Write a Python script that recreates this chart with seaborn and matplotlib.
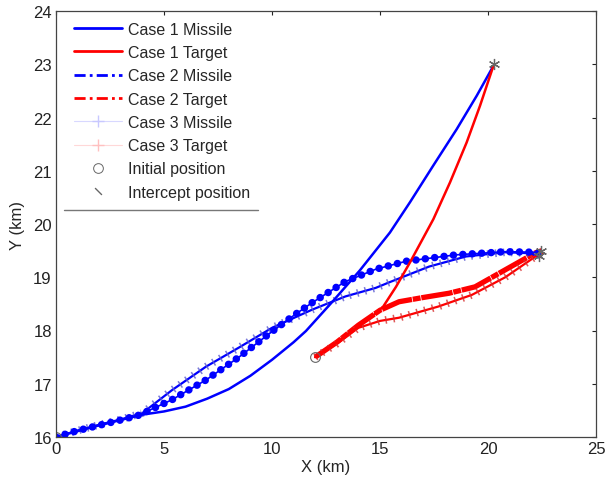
import numpy as np
import pandas as pd
import matplotlib
matplotlib.use("Agg")
import matplotlib.pyplot as plt
import seaborn as sns
from matplotlib.lines import Line2D

# --- trajectory data (km) ---
case1_missile_x = [0, 1, 2, 3, 4, 5, 6, 7, 8, 9, 10, 11, 11.57, 12.84, 14.07, 15.46, 16.39,
                   17.47, 18.55, 19.48, 20.25]
case1_missile_y = [16.0, 16.11, 16.22, 16.32, 16.42, 16.48, 16.57, 16.72, 16.9, 17.15, 17.45,
                   17.78, 17.99, 18.56, 19.13, 19.84, 20.41, 21.1, 21.78, 22.41, 22.97]

case1_target_x = [12, 13, 14, 14.6, 15.15, 15.74, 16.39, 17.47, 18.24, 19.01, 19.63, 20.25]
case1_target_y = [17.5, 17.78, 18.08, 18.25, 18.45, 18.82, 19.28, 20.09, 20.78, 21.53, 22.22, 22.97]

case2_missile_x = [0, 1, 2, 3, 3.84, 5.37, 6.94, 8.47, 10.0, 11.0, 11.85, 13.4, 14.8,
                   16.2, 18.5, 20.8, 22.2, 22.4]
case2_missile_y = [16.0, 16.12, 16.22, 16.32, 16.41, 16.7, 17.07, 17.5, 17.98, 18.28,
                   18.52, 18.92, 19.15, 19.3, 19.42, 19.48, 19.47, 19.45]

case2_target_x = [12, 13, 14, 15, 15.88, 17, 18.2, 19.4, 20.8, 22.2, 22.5]
case2_target_y = [17.5, 17.78, 18.1, 18.38, 18.54, 18.62, 18.7, 18.82, 19.14, 19.46, 19.5]

case3_missile_x = [0, 1, 2, 3, 4, 5.37, 6.94, 8.47, 10.0, 11.85, 13.4, 14.8, 15.4,
                   17.27, 18.98, 20.8, 22.0, 22.36]
case3_missile_y = [16.0, 16.12, 16.23, 16.33, 16.45, 16.88, 17.32, 17.68, 18.05, 18.39,
                   18.64, 18.8, 18.9, 19.2, 19.39, 19.47, 19.45, 19.37]

case3_target_x = [12, 13, 14, 15, 15.88, 17.7, 19.26, 20.8, 22.2, 22.5]
case3_target_y = [17.5, 17.75, 18.05, 18.18, 18.24, 18.45, 18.67, 19.0, 19.39, 19.45]

initial_x = [0, 12]
initial_y = [16.0, 17.5]
intercept_x = [20.3, 22.45, 22.36]
intercept_y = [23.0, 19.5, 19.4]

legend_labels = ["Case 1 Missile", "Case 1 Target", "Case 2 Missile", "Case 2 Target",
                 "Case 3 Missile", "Case 3 Target", "Initial position", "Intercept position"]

BLUE = "#0000ff"
RED = "#ff0000"
GRAY = "#666666"

sns.set_style("white")
plt.rcParams["font.family"] = ["Liberation Sans", "DejaVu Sans"]

fig = plt.figure(figsize=(6.05, 4.85), dpi=100)
ax = fig.add_axes([56 / 605, 1 - 438 / 485, 540 / 605, 426 / 485])


def path(x, y, **kw):
    df = pd.DataFrame({"x": x, "y": y})
    sns.lineplot(data=df, x="x", y="y", sort=False, estimator=None, ax=ax, legend=False, **kw)


# case 2 target: thick, dense dash-dot (reads as solid)
path(case2_target_x, case2_target_y, color=RED, linewidth=3.8,
     linestyle=(0, (6, 0.15, 1.5, 0.15)))

# case 3: line with dense tick marks across it
for xs, ys, c, tc in [(case3_missile_x, case3_missile_y, BLUE, "#5a5ad0"),
                      (case3_target_x, case3_target_y, RED, "#d83030")]:
    path(xs, ys, color=c, linewidth=1.6)
    path(xs, ys, color=tc, linewidth=5.5, linestyle=(0, (0.2, 0.85)), dash_capstyle="butt",
         alpha=0.8)

# case 2 missile: beaded line
path(case2_missile_x, case2_missile_y, color=BLUE, linewidth=1.2)
path(case2_missile_x, case2_missile_y, color=BLUE, linewidth=5.4,
     linestyle=(0, (0.01, 1.25)), dash_capstyle="round")

# case 1: solid lines
path(case1_missile_x, case1_missile_y, color=BLUE, linewidth=1.8)
path(case1_target_x, case1_target_y, color=RED, linewidth=1.8)

ax.plot(initial_x, initial_y, linestyle="none", marker="o", markersize=7,
        markerfacecolor="none", markeredgecolor=GRAY, markeredgewidth=0.8)
ax.plot(intercept_x, intercept_y, linestyle="none", marker=(6, 2, 0), markersize=8,
        color=GRAY, markeredgewidth=0.9)

ax.set_xlim(0, 25)
ax.set_ylim(16, 24)
ax.set_xticks(range(0, 26, 5))
ax.set_yticks(range(16, 25))
ax.set_xlabel("X (km)", fontsize=12, labelpad=2)
ax.set_ylabel("Y (km)", fontsize=12, labelpad=6)
ax.tick_params(direction="in", length=3, width=0.8, labelsize=12, colors="#222222",
               top=True, right=True, pad=3)
for s in ax.spines.values():
    s.set_color("#444444")
    s.set_linewidth(0.9)

handles = [
    Line2D([], [], color=BLUE, lw=2),
    Line2D([], [], color=RED, lw=2),
    Line2D([], [], color=BLUE, lw=2, linestyle=(0, (4, 1.5, 1, 1.5))),
    Line2D([], [], color=RED, lw=2, linestyle=(0, (4, 1.5, 1, 1.5))),
    Line2D([], [], color="#d8d8ff", lw=0.8, marker="+", markersize=9, markeredgecolor="#c8c8ff"),
    Line2D([], [], color="#ffd8d8", lw=0.8, marker="+", markersize=9, markeredgecolor="#ffc0c0"),
    Line2D([], [], linestyle="none", marker="o", markersize=7, markerfacecolor="none",
           markeredgecolor=GRAY, markeredgewidth=0.7),
    Line2D([], [], linestyle="none", marker=(2, 2, 45), markersize=7, color=GRAY,
           markeredgewidth=0.7),
]
leg = ax.legend(handles, legend_labels, loc="upper left", bbox_to_anchor=(0.022, 0.99),
                frameon=False, fontsize=11.5, handlelength=3.0, handletextpad=0.35,
                labelspacing=0.52, borderaxespad=0)
# underline below the legend block
ax.plot([0.014, 0.374], [0.534, 0.534], transform=ax.transAxes, color="#777777", lw=1.0,
        clip_on=False)

fig.savefig("out.png", dpi=100)
